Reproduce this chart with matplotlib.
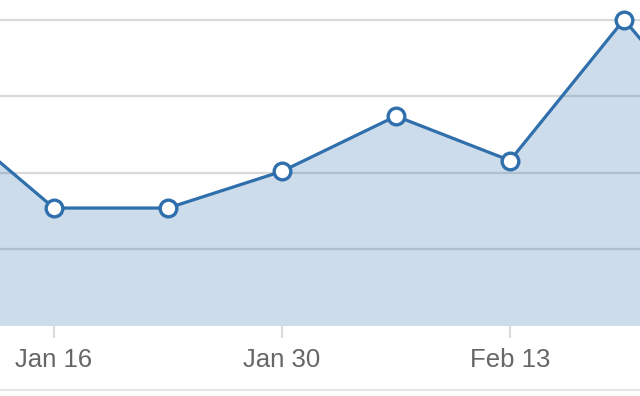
import numpy as np
import pandas as pd
import matplotlib
matplotlib.use("Agg")
from matplotlib import pyplot as plt
import matplotlib.dates as mdates
from matplotlib.lines import Line2D

# weekly values (grid step = 5)
weeks = pd.date_range("2015-01-09", periods=8, freq="7D")
values = [14.0, 7.7, 7.7, 10.1, 13.7, 10.8, 20.0, 11.2]
tick_dates = pd.to_datetime(["2015-01-16", "2015-01-30", "2015-02-13"])
tick_labels = ["Jan 16", "Jan 30", "Feb 13"]

blue = "#2f6fac"

fig = plt.figure(figsize=(6.4, 3.96), dpi=100)
ax = fig.add_axes([0, (396 - 326) / 396, 1, 326 / 396])

x = mdates.date2num(weeks)
ax.fill_between(x, 0, values, color=blue, alpha=0.24, lw=0, zorder=2)
ax.plot(x, values, color=blue, lw=2.3, zorder=3,
        marker="o", ms=12, mfc="white", mec=blue, mew=2.4)

# 114 px per week, Jan 16 at px 54
px_day = 114 / 7
x0 = mdates.date2num(pd.Timestamp("2015-01-16"))
ax.set_xlim(x0 - 54 / px_day, x0 + (640 - 54) / px_day)
ax.set_ylim(0, 326 / 76.6 * 5)

ax.set_yticks([5, 10, 15, 20])
ax.yaxis.grid(True, color="#d9d9d9", lw=1.6, zorder=1)
ax.set_axisbelow(True)
ax.tick_params(axis="y", left=False, labelleft=False)

ax.set_xticks(mdates.date2num(tick_dates))
ax.set_xticklabels(tick_labels)
ax.tick_params(axis="x", direction="out", length=8.5, width=1.1, color="#d0d0d0",
               labelsize=18.5, labelcolor="#666666", pad=7)
for lab in ax.get_xticklabels():
    lab.set_family(["Liberation Sans", "DejaVu Sans"])

for s in ax.spines.values():
    s.set_visible(False)

fig.add_artist(Line2D([0, 1], [6 / 396, 6 / 396], color="#e6e6e6", lw=1.5))

fig.savefig("out.png", dpi=100)
